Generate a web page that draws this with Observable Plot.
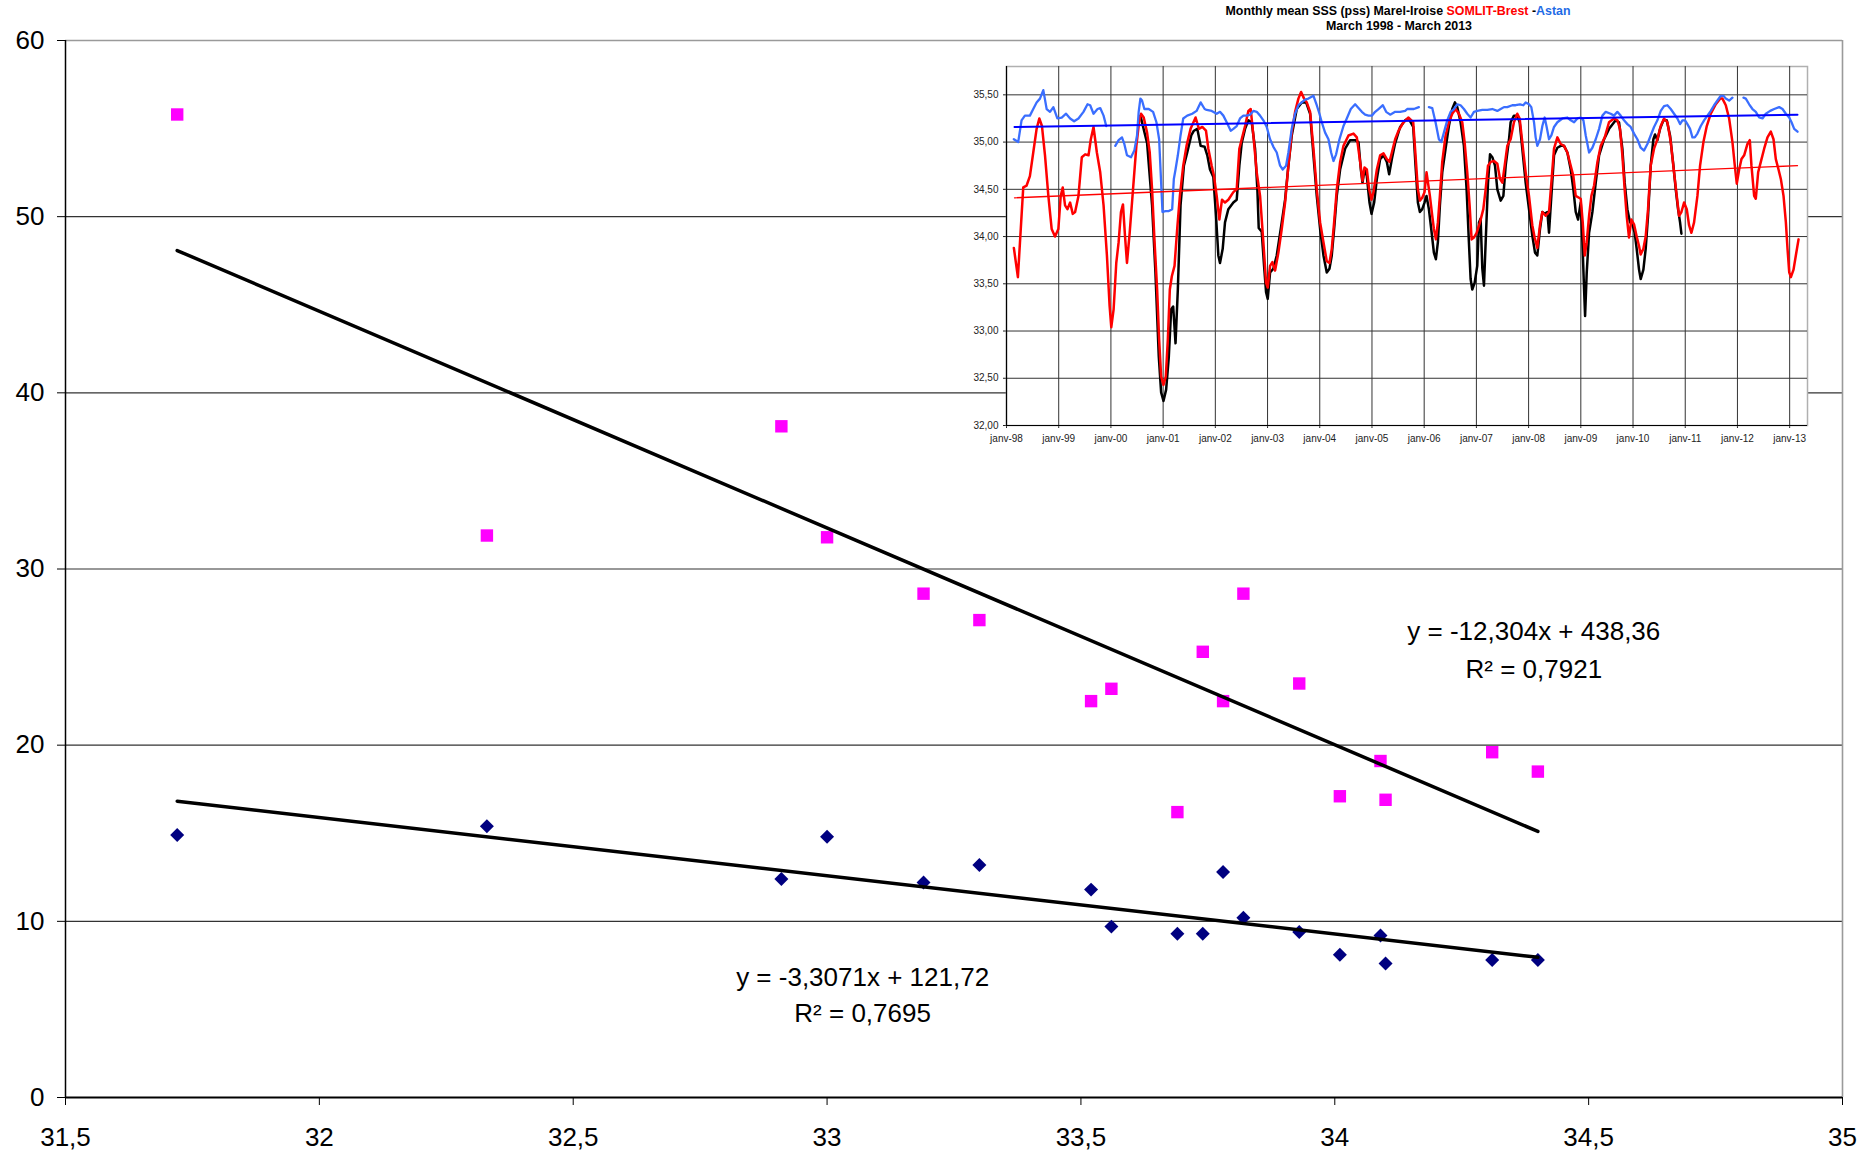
<!DOCTYPE html>
<html>
<head>
<meta charset="utf-8">
<script src="https://cdn.jsdelivr.net/npm/d3@7"></script>
<script src="https://cdn.jsdelivr.net/npm/@observablehq/plot@0.6"></script>
<style>
html, body { margin: 0; padding: 0; background: #fff; overflow: hidden; }
#wrap { position: relative; width: 1868px; height: 1153px; overflow: hidden; font-family: "Liberation Sans", Arial, sans-serif; }
#wrap > svg { position: absolute; }
</style>
</head>
<body>
<div id="wrap"></div>
<script>
// ---------------- Main scatter data ----------------
const salinity = [31.72, 32.33, 32.91, 33.00, 33.19, 33.30, 33.52, 33.56, 33.69, 33.74, 33.78, 33.82, 33.93, 34.01, 34.09, 34.10, 34.31, 34.40];
const magentaSeries = [55.8, 31.9, 38.1, 31.8, 28.6, 27.1, 22.5, 23.2, 16.2, 25.3, 22.5, 28.6, 23.5, 17.1, 19.1, 16.9, 19.6, 18.5];
const navySeries = [14.9, 15.4, 12.4, 14.8, 12.2, 13.2, 11.8, 9.7, 9.3, 9.3, 12.8, 10.2, 9.4, 8.1, 9.2, 7.6, 7.8, 7.8];
const fitSlopes = [-12.304, -3.3071];
const fitIntercepts = [438.36, 121.72];
const fitLabels = ["y = -12,304x + 438,36", "y = -3,3071x + 121,72"];
const r2Labels = ["R\u00B2 = 0,7921", "R\u00B2 = 0,7695"];
const mainXTicks = [31.5, 32, 32.5, 33, 33.5, 34, 34.5, 35];
const mainYTicks = [0, 10, 20, 30, 40, 50, 60];

// ---------------- Inset time series (month index from janv-98) ----------------
const insetTitle = ["Monthly mean SSS (pss) Marel-Iroise ", "SOMLIT-Brest", " -", "Astan"];
const insetSubtitle = "March 1998 - March 2013";
const insetYearLabels = ["janv-98","janv-99","janv-00","janv-01","janv-02","janv-03","janv-04","janv-05","janv-06","janv-07","janv-08","janv-09","janv-10","janv-11","janv-12","janv-13"];
const insetYTicks = [32, 32.5, 33, 33.5, 34, 34.5, 35, 35.5];

const brestMonths = [1.69,2.62,3.85,4.62,5.38,6.15,6.92,7.54,8.15,8.85,9.62,10.38,11.15,11.92,12.46,12.92,13.46,14.0,14.62,15.23,15.77,16.54,17.31,18.08,18.85,19.38,20.0,20.77,21.54,22.31,23.08,23.69,24.08,24.62,25.23,25.77,26.31,26.77,27.23,27.69,28.31,29.08,29.85,30.46,30.92,31.54,32.31,32.92,33.46,34.0,34.62,35.08,35.54,36.08,36.62,37.08,37.54,38.0,38.62,39.23,39.85,40.62,41.38,42.31,43.46,44.23,45.0,45.85,46.39,47.16,47.69,48.31,48.92,49.53,50.22,50.99,52.14,52.91,53.52,54.06,54.83,55.59,56.13,56.74,57.51,58.28,59.04,59.66,60.04,60.58,61.11,61.73,62.49,63.26,64.03,64.79,65.56,66.33,67.09,67.71,68.40,69.01,69.78,70.55,71.31,72.08,72.85,73.61,74.23,74.76,75.30,75.91,76.68,77.45,78.60,79.75,80.52,81.28,81.82,82.28,82.82,83.35,83.89,84.35,85.12,85.88,86.65,87.42,88.03,88.57,89.33,90.10,91.25,92.40,93.48,94.01,94.55,95.01,95.55,96.08,96.54,97.31,97.85,98.23,98.69,99.15,99.61,100.15,100.92,101.68,102.45,103.22,103.98,104.75,105.29,105.90,106.44,106.90,107.44,108.06,108.82,109.59,110.13,110.67,111.28,112.05,112.81,113.43,113.97,114.50,115.10,115.87,116.63,117.40,117.94,118.55,119.32,120.09,120.85,121.39,122.00,122.62,123.16,123.92,124.69,125.23,125.84,126.61,127.38,128.14,128.91,129.68,130.29,130.83,131.98,132.44,132.90,133.36,133.90,134.43,135.05,135.82,136.58,137.50,138.48,139.63,140.40,141.01,141.55,142.08,142.54,143.08,143.62,144.23,144.84,145.38,145.76,146.38,146.91,147.45,148.06,148.83,149.60,150.37,151.13,151.90,152.67,153.43,154.05,154.58,155.12,155.73,156.35,156.88,157.42,158.03,158.80,159.41,160.18,160.95,161.87,163.02,164.02,164.55,165.32,166.09,166.85,167.39,167.85,168.39,168.93,169.54,170.30,170.84,171.22,171.84,172.22,172.76,173.37,174.14,174.90,175.67,176.29,176.82,177.44,177.97,178.59,179.13,179.51,179.90,180.28,180.89,181.42,182.04];
const brestSSS = [33.88,33.57,34.52,34.54,34.64,34.89,35.14,35.25,35.17,34.86,34.43,34.08,34.00,34.08,34.43,34.52,34.33,34.29,34.36,34.24,34.26,34.43,34.84,34.87,34.86,35.03,35.16,34.89,34.68,34.33,33.80,33.27,33.04,33.23,33.72,33.94,34.26,34.34,34.01,33.72,34.04,34.50,34.96,35.21,35.30,35.26,35.10,34.89,34.50,33.97,33.44,32.91,32.52,32.43,32.52,32.91,33.44,33.58,33.69,34.08,34.43,34.75,34.96,35.14,35.26,35.14,35.16,35.12,34.93,34.75,34.64,34.43,34.18,34.39,34.36,34.39,34.47,34.50,34.93,35.03,35.17,35.33,35.35,35.07,34.68,34.43,33.94,33.51,33.46,33.69,33.73,33.64,33.83,34.08,34.36,34.75,35.10,35.32,35.46,35.53,35.46,35.42,35.32,34.93,34.50,34.15,33.94,33.74,33.72,33.87,34.15,34.50,34.79,34.96,35.07,35.09,35.05,34.79,34.59,34.73,34.71,34.50,34.39,34.47,34.71,34.86,34.88,34.82,34.79,34.89,35.03,35.12,35.21,35.26,35.21,34.86,34.50,34.38,34.41,34.47,34.68,34.43,34.22,34.08,33.97,34.15,34.43,34.79,35.07,35.21,35.30,35.35,35.30,35.21,35.00,34.68,34.33,33.97,33.99,34.04,34.15,34.29,34.50,34.75,34.79,34.80,34.77,34.61,34.57,34.75,34.96,35.03,35.21,35.30,35.25,35.00,34.68,34.43,34.12,33.99,33.88,34.12,34.26,34.22,34.26,34.57,34.93,35.05,34.98,34.96,34.89,34.75,34.64,34.43,34.40,34.15,33.80,33.94,34.22,34.43,34.54,34.79,34.96,35.05,35.21,35.25,35.23,35.14,34.86,34.50,34.22,33.99,34.18,34.13,34.00,33.90,33.81,33.87,34.00,34.29,34.75,34.93,35.03,35.17,35.25,35.21,35.00,34.68,34.43,34.22,34.26,34.36,34.29,34.12,34.04,34.15,34.43,34.75,35.00,35.17,35.30,35.40,35.46,35.46,35.39,35.25,35.00,34.75,34.56,34.71,34.82,34.86,34.98,35.02,34.75,34.43,34.40,34.68,34.79,34.93,35.05,35.11,35.03,34.82,34.71,34.61,34.43,34.15,33.87,33.62,33.57,33.65,33.80,33.97];

const marelMonths = [30.77,32.31,33.46,34.23,35.0,35.54,36.08,36.69,37.31,37.85,38.31,38.85,39.38,40.0,40.77,41.54,42.46,43.08,43.85,44.62,45.54,46.15,46.77,47.54,48.15,48.69,49.07,49.69,50.22,50.99,52.14,52.91,53.52,54.06,54.83,55.59,56.36,57.13,57.66,57.97,58.66,59.20,59.66,60.04,60.58,61.34,62.11,63.26,64.03,64.79,65.56,66.71,67.86,68.86,69.78,70.55,71.31,72.08,72.85,73.61,74.23,74.76,75.30,75.91,76.68,77.83,78.98,80.13,80.90,81.44,81.82,82.28,82.82,83.43,83.89,84.50,85.12,85.88,86.65,87.42,87.95,88.57,89.33,90.48,91.63,92.40,93.48,94.01,94.55,95.01,95.55,96.08,96.54,97.08,97.62,98.23,98.69,99.15,99.61,100.15,100.92,101.68,102.45,103.06,103.60,104.37,105.13,105.75,106.28,106.67,107.05,107.59,108.20,108.59,108.97,109.36,109.74,110.13,110.67,111.13,111.66,112.28,112.81,113.58,114.20,114.73,115.50,115.87,116.63,117.40,117.94,118.55,119.32,120.09,120.85,121.47,122.00,122.62,123.16,123.69,124.31,124.69,125.23,125.84,126.61,127.38,128.14,128.91,129.68,130.29,130.83,131.37,131.98,132.37,132.75,132.98,133.36,133.90,134.66,135.43,136.20,137.35,138.50,140.01,140.78,141.55,142.08,142.70,143.31,143.85,144.38,144.84,145.38,145.76,146.38,146.91,147.45,148.06,148.68,149.06,149.60,150.21,150.98,151.75,152.51,153.28,153.82,154.35,154.81,155.12];
const marelSSS = [35.28,34.99,34.33,33.62,32.73,32.35,32.26,32.38,32.73,33.23,33.26,32.87,33.44,34.33,34.75,34.89,35.07,35.12,35.14,34.96,34.95,34.86,34.71,34.63,34.22,33.80,33.72,33.87,34.15,34.29,34.36,34.39,34.75,34.99,35.14,35.23,35.21,34.93,34.50,34.09,34.05,33.69,33.41,33.34,33.62,33.66,33.80,34.15,34.39,34.75,35.07,35.35,35.42,35.42,35.30,34.86,34.43,34.08,33.80,33.62,33.66,33.80,34.08,34.43,34.71,34.93,35.02,35.02,35.00,34.71,34.57,34.71,34.64,34.36,34.24,34.36,34.61,34.82,34.86,34.79,34.66,34.82,34.99,35.16,35.23,35.25,35.16,34.75,34.36,34.26,34.29,34.36,34.43,34.29,34.08,33.83,33.76,33.94,34.33,34.68,34.93,35.17,35.35,35.42,35.37,35.21,34.96,34.50,33.94,33.55,33.44,33.51,33.69,34.15,34.19,33.66,33.48,33.94,34.57,34.87,34.84,34.75,34.50,34.38,34.43,34.75,35.03,35.21,35.28,35.28,35.21,34.93,34.57,34.29,34.01,33.83,33.80,34.08,34.26,34.24,34.26,34.04,34.43,34.86,34.94,34.96,34.96,34.89,34.71,34.50,34.26,34.18,34.36,33.94,33.44,33.16,33.62,34.04,34.26,34.57,34.86,35.03,35.14,35.23,35.21,34.93,34.57,34.29,34.15,34.13,34.04,33.87,33.65,33.55,33.65,33.87,34.22,34.75,35.03,35.08,35.02,35.14,35.23,35.23,35.07,34.75,34.50,34.29,34.15,34.03];

// null values mark gaps in the Astan record
const astanMonths = [1.69,2.69,3.46,4.23,5.38,6.15,6.92,7.69,8.46,9.23,10.0,10.77,11.69,12.69,13.69,14.62,15.54,16.54,17.69,18.62,19.23,20.0,20.92,21.54,22.31,22.92,24.0,25.0,25.77,26.54,27.08,27.69,28.62,29.38,30.0,30.38,30.77,31.15,31.69,32.69,33.69,34.46,35.08,35.54,35.85,36.54,37.31,38.08,38.46,38.85,39.38,40.0,40.62,41.54,42.69,43.69,44.62,45.54,46.01,47.16,48.31,49.07,49.84,50.61,51.53,52.14,52.91,53.67,54.44,55.21,55.98,56.74,57.51,58.28,59.04,59.81,60.58,61.34,62.11,62.88,63.49,64.26,64.79,65.56,66.33,67.09,67.86,68.63,69.40,70.55,71.31,71.93,72.46,73.23,74.0,74.61,75.15,75.76,76.53,77.45,78.21,79.13,80.13,80.90,81.67,82.43,83.20,83.97,84.73,85.50,86.50,87.26,88.18,89.33,90.48,91.63,92.10,93.63,94.78,96.0,97.08,97.85,98.61,99.38,99.92,100.53,101.30,102.07,102.83,103.60,104.37,105.13,105.90,106.67,107.44,108.20,109.36,110.51,111.66,112.81,113.58,114.34,115.10,116.25,117.02,118.02,118.78,119.32,120.09,120.62,121.24,121.62,122.00,122.62,123.16,123.69,124.15,124.69,125.23,125.84,126.61,127.76,128.91,129.68,130.45,131.21,131.98,132.60,133.13,133.90,134.66,135.43,136.20,136.96,137.73,138.86,139.63,140.40,141.16,141.93,142.70,143.46,144.23,145.0,145.76,146.53,147.30,148.06,148.83,149.60,150.37,151.13,151.90,152.67,153.43,154.20,154.81,155.35,155.96,156.50,157.11,157.65,158.19,158.80,159.57,160.33,161.10,161.87,162.63,163.40,164.17,164.78,165.32,166.09,166.85,168.0,169.38,169.92,170.69,171.45,172.22,172.99,173.75,174.52,175.52,176.44,177.59,178.36,179.12,179.89,180.43,181.04,181.81];
const astanSSS = [35.03,35.00,35.23,35.28,35.28,35.35,35.42,35.46,35.55,35.35,35.32,35.37,35.25,35.26,35.30,35.25,35.22,35.25,35.32,35.40,35.39,35.30,35.35,35.36,35.28,35.17,null,34.96,35.02,35.05,34.98,34.86,34.84,34.91,35.07,35.32,35.46,35.44,35.35,35.35,35.32,35.21,35.03,34.57,34.26,34.27,34.27,34.29,34.61,34.71,34.86,35.07,35.25,35.28,35.30,35.33,35.42,35.35,35.34,35.33,35.30,35.32,35.28,35.21,35.12,35.14,35.17,35.25,35.28,35.28,35.29,35.33,35.32,35.28,35.23,35.16,35.03,34.95,34.89,34.75,34.71,34.75,34.89,35.14,35.30,35.39,35.42,35.45,35.46,35.49,35.39,35.30,35.21,35.10,35.03,34.89,34.80,34.87,35.03,35.17,35.25,35.35,35.40,35.36,35.32,35.29,35.28,35.28,35.32,35.35,35.39,35.32,35.29,35.32,35.32,35.33,35.35,35.35,35.37,null,35.37,35.36,35.21,35.03,35.00,35.10,35.23,35.32,35.35,35.40,35.39,35.35,35.30,35.26,35.32,35.33,35.34,35.34,35.35,35.33,35.35,35.37,35.37,35.39,35.39,35.40,35.39,35.42,35.40,35.37,35.21,35.05,34.96,35.03,35.17,35.26,35.16,35.03,35.07,35.16,35.21,35.25,35.26,35.23,35.21,35.25,35.26,35.23,35.07,34.89,34.94,35.03,35.14,35.28,35.32,35.30,35.28,35.32,35.28,35.23,35.19,35.16,35.09,35.03,34.94,34.91,34.98,35.07,35.16,35.23,35.33,35.38,35.39,35.35,35.30,35.25,35.19,35.23,35.23,35.19,35.14,35.05,35.05,35.09,35.17,35.23,35.28,35.33,35.39,35.44,35.49,35.49,35.46,35.44,35.47,null,35.47,35.46,35.40,35.35,35.32,35.26,35.25,35.30,35.33,35.35,35.37,35.35,35.30,35.26,35.21,35.14,35.11];

// linear trends (end values)
const trendMonths = [1.84, 181.8];
const astanTrend = [35.16, 35.29];
const brestTrend = [34.41, 34.75];

// ---------------- Build ----------------
const FONT = "'Liberation Sans', Arial, Helvetica, sans-serif";
const commaFmt = d => String(d).replace(".", ",");
const wrap = document.getElementById("wrap");

const pts = salinity.map((s, i) => ({s, mag: magentaSeries[i], navy: navySeries[i]}));
const xMin = d3.min(salinity), xMax = d3.max(salinity);
const fitLines = fitSlopes.flatMap((a, k) => [xMin, xMax].map(x => ({x, y: a * x + fitIntercepts[k], k})));

const main = Plot.plot({
  width: 1868, height: 1153,
  marginLeft: 65, marginRight: 26, marginTop: 40, marginBottom: 56,
  style: {fontFamily: FONT, fontSize: "26px", color: "#000", background: "transparent", overflow: "visible"},
  x: {domain: [31.5, 35], ticks: mainXTicks, tickFormat: commaFmt, tickSize: 8, tickPadding: 22, label: null},
  y: {domain: [0, 60], ticks: mainYTicks, tickFormat: commaFmt, tickSize: 8, tickPadding: 13, label: null},
  marks: [
    Plot.ruleY([10, 20, 30, 40, 50], {stroke: "#333", strokeWidth: 1.2}),
    Plot.ruleY([60], {stroke: "#9a9a9a", strokeWidth: 1.6}),
    Plot.ruleX([35], {stroke: "#9a9a9a", strokeWidth: 1.6}),
    Plot.ruleX([31.5], {stroke: "#000", strokeWidth: 1.5}),
    Plot.ruleY([0], {stroke: "#000", strokeWidth: 2}),
    Plot.dot(pts, {x: "s", y: "navy", symbol: "diamond2", r: 6.3, fill: "#000080", stroke: "none"}),
    Plot.dot(pts, {x: "s", y: "mag", symbol: "square", r: 7, fill: "#FF00FF", stroke: "none"}),
    Plot.line(fitLines, {x: "x", y: "y", z: "k", stroke: "#000", strokeWidth: 3.5}),
    Plot.text([fitLabels[0]], {x: 34.392, y: 26.46, text: d => d, fontSize: 26, fill: "#000", textAnchor: "middle", lineAnchor: "middle"}),
    Plot.text([r2Labels[0]], {x: 34.392, y: 24.30, text: d => d, fontSize: 26, fill: "#000", textAnchor: "middle", lineAnchor: "middle"}),
    Plot.text([fitLabels[1]], {x: 33.07, y: 6.81, text: d => d, fontSize: 26, fill: "#000", textAnchor: "middle", lineAnchor: "middle"}),
    Plot.text([r2Labels[1]], {x: 33.07, y: 4.77, text: d => d, fontSize: 26, fill: "#000", textAnchor: "middle", lineAnchor: "middle"})
  ]
});
main.style.left = "0px"; main.style.top = "0px";
wrap.appendChild(main);

// inset
const brest = brestMonths.map((m, i) => ({m, v: brestSSS[i]}));
const marel = marelMonths.map((m, i) => ({m, v: marelSSS[i]}));
const astan = astanMonths.map((m, i) => ({m, v: astanSSS[i]}));
const trends = [
  ...trendMonths.map((m, i) => ({m, v: astanTrend[i], k: "a"})),
  ...trendMonths.map((m, i) => ({m, v: brestTrend[i], k: "b"}))
];
const yearTicks = insetYearLabels.map((_, i) => i * 12);

const inset = Plot.plot({
  width: 880, height: 400,
  marginLeft: 66, marginRight: 13, marginTop: 16, marginBottom: 25,
  style: {fontFamily: FONT, fontSize: "10px", color: "#222", background: "transparent", overflow: "visible"},
  x: {type: "linear", domain: [0, 184.1], ticks: yearTicks, tickFormat: d => insetYearLabels[Math.round(d / 12)], tickSize: 3, tickPadding: 6, label: null},
  y: {domain: [32, 35.8], ticks: insetYTicks, tickFormat: d => d.toFixed(2).replace(".", ","), tickSize: 3, tickPadding: 5, label: null},
  marks: [
    Plot.frame({fill: "white", stroke: "#b0b0b0", strokeWidth: 1.5}),
    Plot.ruleY(insetYTicks.slice(1), {stroke: "#333", strokeWidth: 1}),
    Plot.ruleX(yearTicks.slice(1), {stroke: "#333", strokeWidth: 1}),
    Plot.ruleX([0], {stroke: "#000", strokeWidth: 1.2}),
    Plot.ruleY([32], {stroke: "#000", strokeWidth: 1.2}),
    Plot.line(marel, {x: "m", y: "v", stroke: "#000", strokeWidth: 2.5, strokeLinejoin: "round"}),
    Plot.line(brest, {x: "m", y: "v", stroke: "#FF0000", strokeWidth: 2.5, strokeLinejoin: "round"}),
    Plot.line(astan, {x: "m", y: "v", stroke: "#3A6EFF", strokeWidth: 2.3, strokeLinejoin: "round"}),
    Plot.line(trends, {x: "m", y: "v", z: "k", stroke: d => d.k === "a" ? "#0000FF" : "#FF0000", strokeWidth: d => d.k === "a" ? 2 : 1.3})
  ]
});
inset.style.left = "940px"; inset.style.top = "50px";
wrap.appendChild(inset);

// inset title
const t = d3.select(wrap).append("svg")
  .attr("width", 700).attr("height", 36)
  .style("left", "1048px").style("top", "0px")
  .style("font-family", FONT);
const l1 = t.append("text").attr("x", 350).attr("y", 14.5)
  .attr("text-anchor", "middle").attr("font-weight", "bold").attr("font-size", 12.4)
  .attr("xml:space", "preserve");
const titleColors = ["#000", "#FF0000", "#000", "#1E6BE6"];
insetTitle.forEach((s, i) => l1.append("tspan").attr("fill", titleColors[i]).text(s));
t.append("text").attr("x", 351).attr("y", 30)
  .attr("text-anchor", "middle").attr("font-weight", "bold").attr("font-size", 12.4)
  .attr("fill", "#000").text(insetSubtitle);
</script>
</body>
</html>
